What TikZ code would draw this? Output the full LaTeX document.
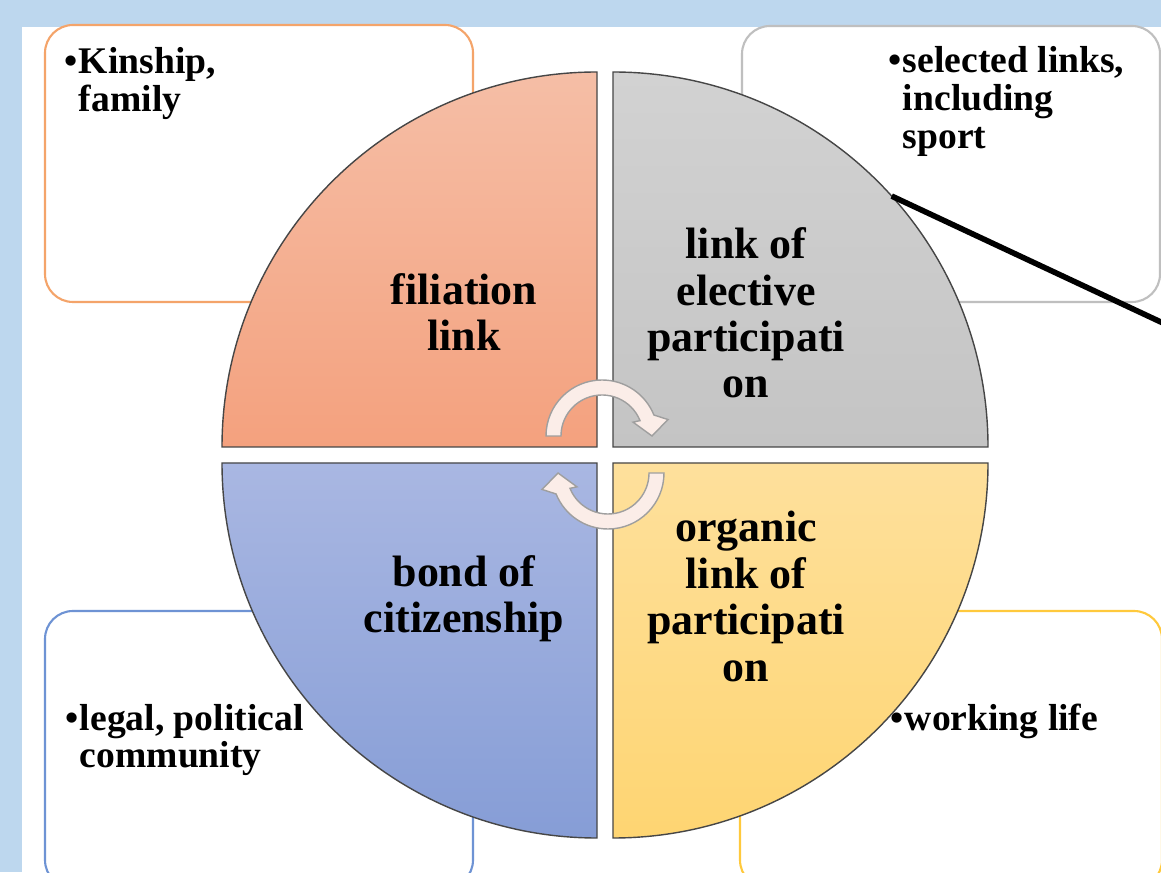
\documentclass[tikz,border=0pt]{standalone}
\usepackage{fontspec}
\setmainfont{Liberation Serif}
\usetikzlibrary{calc}
\definecolor{pageblue}{HTML}{BDD7EE}
\definecolor{kinframe}{HTML}{F4A46A}
\definecolor{selframe}{HTML}{BFBFBF}
\definecolor{legalframe}{HTML}{6E93D4}
\definecolor{workframe}{HTML}{FFC93C}
\definecolor{filtop}{HTML}{F5BEA6}
\definecolor{filbot}{HTML}{F4A17E}
\definecolor{eletop}{HTML}{D2D2D2}
\definecolor{elebot}{HTML}{C4C4C4}
\definecolor{cittop}{HTML}{A9B7E2}
\definecolor{citbot}{HTML}{869DD6}
\definecolor{orgtop}{HTML}{FEE09C}
\definecolor{orgbot}{HTML}{FED572}
\definecolor{arrowfill}{HTML}{FBEDE8}
\newcommand{\bulletlist}[1]{\begin{tabular}[t]{@{}l@{\hspace{0.3pt}}l@{}}\textbullet&\begin{tabular}[t]{@{}l@{}}#1\end{tabular}\end{tabular}}
\tikzset{
	boxframe/.style={
			rounded corners=2.8mm,
			line width=0.6pt,
			fill=white
		},
	quadrant/.style={
			draw=gray!55!black,
			line width=0.4pt
		},
	quadlabel/.style={
			align=center,
			font=\bfseries\fontsize{12.5}{13.2}\selectfont,
			inner sep=0pt
		},
	bulletlabel/.style={
			anchor=base west,
			font=\bfseries\fontsize{10.7}{10.8}\selectfont,
			inner sep=0pt
		},
	cyclearrow/.style={
			fill=arrowfill,
			draw=gray!75,
			line width=0.4pt
		}
}

\begin{document}
\begin{tikzpicture}

  \useasboundingbox (0,0) rectangle (11.61,8.72);
  \clip (0,0) rectangle (11.61,8.72);

  % page
  \fill[pageblue] (0,0) rectangle (11.61,8.72);
  \fill[white] (0.22,0) rectangle (11.61,8.45);

  % corner boxes
  \draw[boxframe, draw=kinframe] (0.45,5.70) rectangle (4.73,8.47);
  \draw[boxframe, draw=selframe] (7.42,5.70) rectangle (11.60,8.46);
  \draw[boxframe, draw=legalframe] (0.45,-0.16) rectangle (4.73,2.61);
  \draw[boxframe, draw=workframe] (7.40,-0.16) rectangle (11.62,2.61);

  % quadrants
  \coordinate (q1) at (5.97,4.25);
  \coordinate (q2) at (6.13,4.25);
  \coordinate (q3) at (5.97,4.09);
  \coordinate (q4) at (6.13,4.09);
  \foreach \q/\a/\ctop/\cbot in {q1/180/filtop/filbot, q2/90/eletop/elebot, q3/270/cittop/citbot, q4/0/orgtop/orgbot}
    \draw[quadrant, top color=\ctop, bottom color=\cbot] (\q) -- ++(\a:3.75) arc[start angle=\a, end angle=\a-90, radius=3.75] -- cycle;

  \node[quadlabel] (filiation) at (4.64,5.60) {filiation\\link};
  \node[quadlabel] (elective) at (7.46,5.59) {link of\\elective\\participati\\on};
  \node[quadlabel] (citizen) at (4.64,2.73) {bond of\\citizenship};
  \node[quadlabel] (organic) at (7.46,2.755) {organic\\link of\\participati\\on};

  \node[bulletlabel] (kin) at (0.64,7.98) {\bulletlist{Kinship,\\family}};
  \node[bulletlabel] (sel) at (8.88,7.99) {\bulletlist{selected links,\\including\\sport}};
  \node[bulletlabel] (legal) at (0.65,1.42) {\bulletlist{legal, political\\community}};
  \node[bulletlabel] (work) at (8.90,1.42) {\bulletlist{working life}};

  % circular arrows
  \coordinate (ta) at (6.02,4.36);
  \coordinate (ba) at (6.08,3.99);
  \foreach \c/\rot in {ta/0, ba/180}
    \draw[cyclearrow, shift={(\c)}, rotate=\rot] (180:0.56) arc[start angle=180, end angle=22, radius=0.56] -- (14:0.68) -- (0:0.50) -- (24:0.34) -- (22:0.41) arc[start angle=22, end angle=180, radius=0.41] -- cycle;

  % pointer line
  \coordinate (linestart) at ($(q2)+(42:3.75)$);
  \coordinate (lineend) at (11.80,5.41);
  \draw[line width=1.6pt] (linestart) -- (lineend);

\end{tikzpicture}
\end{document}
